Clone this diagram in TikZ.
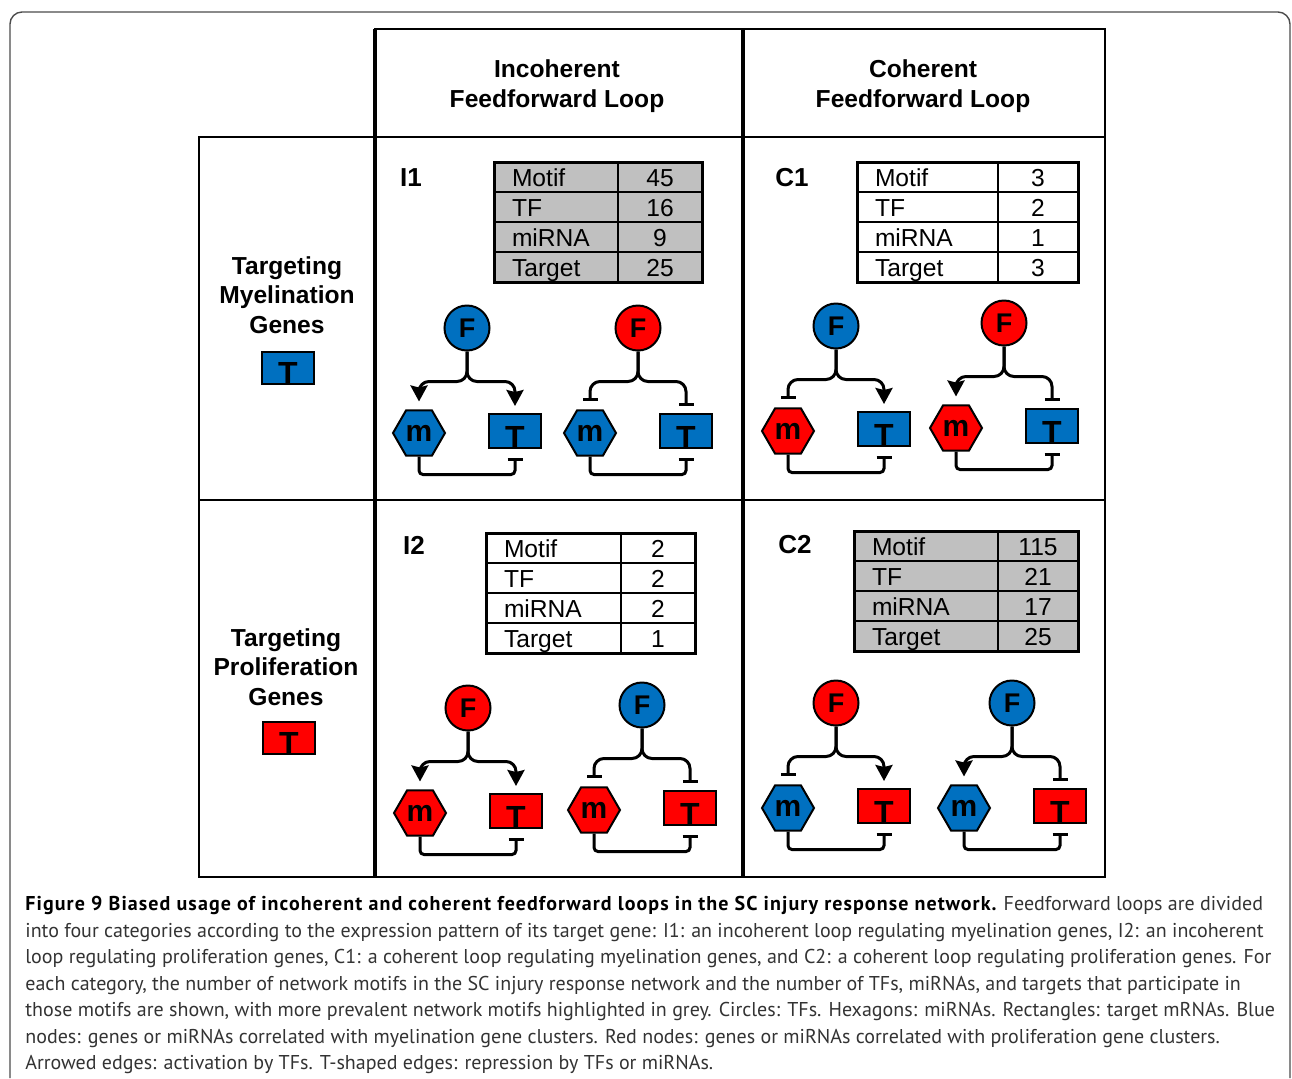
\documentclass[tikz,border=0pt]{standalone}
\usepackage{fontspec}
\setmainfont{Liberation Sans}
\newfontfamily\capfont{PT Sans}
\newfontfamily\capbold{PT Sans Bold}[LetterSpace=5.4]
\usetikzlibrary{arrows.meta,shapes.geometric}

\definecolor{nodeblue}{RGB}{0,112,192}
\definecolor{nodered}{RGB}{255,0,0}
\definecolor{cellgrey}{RGB}{192,192,192}

\tikzset{
  hdr/.style={font=\fontsize{12.3}{14.8}\selectfont\bfseries,align=center},
  tf/.style={circle,draw,line width=1pt,minimum size=22.5pt,inner sep=0pt,font=\fontsize{13.5}{13.5}\selectfont\bfseries},
  mir/.style={regular polygon,regular polygon sides=6,draw,line width=1pt,minimum size=26pt,inner sep=0pt,font=\fontsize{15}{15}\selectfont\bfseries},
  tgt/.style={rectangle,draw,line width=1pt,minimum width=26pt,minimum height=17pt,inner sep=0pt,outer sep=0pt},
  tletter/.style={anchor=base,inner sep=0pt,font=\fontsize{16}{16}\selectfont\bfseries},
  link/.style={line width=1.5pt,rounded corners=5pt},
  act/.style={-{Stealth[length=8pt,width=8.5pt,inset=1pt]}},
  rep/.style={-{Bar[width=7.5pt]}},
  cell/.style={draw,line width=1pt,anchor=north west,outer sep=0pt,minimum height=15pt,inner ysep=0pt,text height=10pt,text depth=0.2pt,font=\fontsize{12.3}{12.3}\selectfont},
}

\begin{document}
\begin{tikzpicture}[x=0.5pt,y=-0.5pt]
\useasboundingbox (0,0) rectangle (1292,1078);
% frame round the figure
\draw[black!70,line width=0.7pt,rounded corners=6pt] (10,1078) -- (10,12) -- (1290,12) -- (1290,1078);
%
\draw[line width=1.2pt] (199,137) rectangle (1105,877);
\draw[line width=1.2pt] (375,29) rectangle (1105,137);
\draw[line width=1.8pt] (375,29) -- (375,877);
\draw[line width=1.8pt] (743,29) -- (743,877);
\draw[line width=1.2pt] (199,500) -- (1105,500);
%
\node[hdr] (hinc) at (557,86) {Incoherent\\Feedforward Loop};
\node[hdr] (hcoh) at (923,86) {Coherent\\Feedforward Loop};
\node[hdr] (rmye) at (287,295) {Targeting\\Myelination\\Genes};
\node[hdr] (rpro) at (286,667) {Targeting\\Proliferation\\Genes};
\node[tgt,fill=nodeblue,minimum height=16pt] (Tmye) at (288,368) {};
\node[tletter] (tmye) at (Tmye.south) {T};
\node[tgt,fill=nodered,minimum height=16pt] (Tpro) at (289,738) {};
\node[tletter] (tpro) at (Tpro.south) {T};
%
\node[font=\fontsize{13}{13}\selectfont\bfseries] (lI1) at (411,178) {I1};
\node[font=\fontsize{13}{13}\selectfont\bfseries] (lC1) at (792,178) {C1};
\node[font=\fontsize{13}{13}\selectfont\bfseries] (lI2) at (414,545) {I2};
\node[font=\fontsize{13}{13}\selectfont\bfseries] (lC2) at (795,545) {C2};
%
\foreach \tn/\tx/\td/\tr/\ty/\tc/\va/\vb/\vc/\vd in {
  I1/494/618/702/162/cellgrey/45/16/9/25,
  C1/857/998/1078/162/white/3/2/1/3,
  I2/486/621/695/533/white/2/2/2/1,
  C2/854/998/1078/531/cellgrey/115/21/17/25}{
\pgfmathsetmacro\wa{(\td-\tx)*0.5-18}
\pgfmathsetmacro\wb{(\tr-\td)*0.5}
\foreach \lab/\val [count=\k] in {Motif/\va,TF/\vb,miRNA/\vc,Target/\vd}{
\node[cell,fill=\tc,text width=\wa pt,inner xsep=9pt] (\tn a\k) at (\tx,{\ty+30*(\k-1)}) {\lab};
\node[cell,fill=\tc,minimum width=\wb pt,inner xsep=0pt] (\tn b\k) at (\td,{\ty+30*(\k-1)}) {\val};
}
\draw[line width=1.5pt] (\tn a1.north west) rectangle (\tn b4.south east);
}
%
\foreach \n/\fx/\fy/\cf/\cm/\ct/\am/\at in {
  1/467/328/nodeblue/nodeblue/nodeblue/act/act,
  2/638/328/nodered/nodeblue/nodeblue/rep/rep,
  3/836/326/nodeblue/nodered/nodeblue/rep/act,
  4/1004/323/nodered/nodered/nodeblue/act/rep,
  5/468/708/nodered/nodered/nodered/act/act,
  6/642/705/nodeblue/nodered/nodered/rep/rep,
  7/836/703/nodered/nodeblue/nodered/rep/act,
  8/1012/703/nodeblue/nodeblue/nodered/act/rep}{
\begin{scope}[shift={(\fx,\fy)}]
\node[tf,fill=\cf] (F\n) at (0,0) {F};
\node[mir,fill=\cm] (m\n) at (-48,105) {m};
\node[tgt,fill=\ct] (T\n) at (48,103) {};
\node[tletter] (t\n) at (T\n.south) {T};
\draw[link,\am] (F\n.south) -- ++(0,30) -| ([yshift=4pt]m\n.north);
\draw[link,\at] (F\n.south) -- ++(0,30) -| ([yshift=4pt]T\n.north);
\draw[link,rep,rounded corners=2pt] (m\n.south) -- ++(0,18) -| ([yshift=-5pt]T\n.south);
\end{scope}
}
%
\node[anchor=north west,inner sep=0pt,align=left,font=\capfont\fontsize{10}{13.25}\selectfont,text=black!80] (cap) at (25,896)
{{\capbold\color{black}Figure 9 Biased usage of incoherent and coherent feedforward loops in the SC injury response network.} Feedforward loops are divided\\
into four categories according to the expression pattern of its target gene: I1: an incoherent loop regulating myelination genes, I2: an incoherent\\
loop regulating proliferation genes, C1: a coherent loop regulating myelination genes, and C2: a coherent loop regulating proliferation genes. For\\
each category, the number of network motifs in the SC injury response network and the number of TFs, miRNAs, and targets that participate in\\
those motifs are shown, with more prevalent network motifs highlighted in grey. Circles: TFs. Hexagons: miRNAs. Rectangles: target mRNAs. Blue\\
nodes: genes or miRNAs correlated with myelination gene clusters. Red nodes: genes or miRNAs correlated with proliferation gene clusters.\\
Arrowed edges: activation by TFs. T-shaped edges: repression by TFs or miRNAs.};
\end{tikzpicture}
\end{document}
